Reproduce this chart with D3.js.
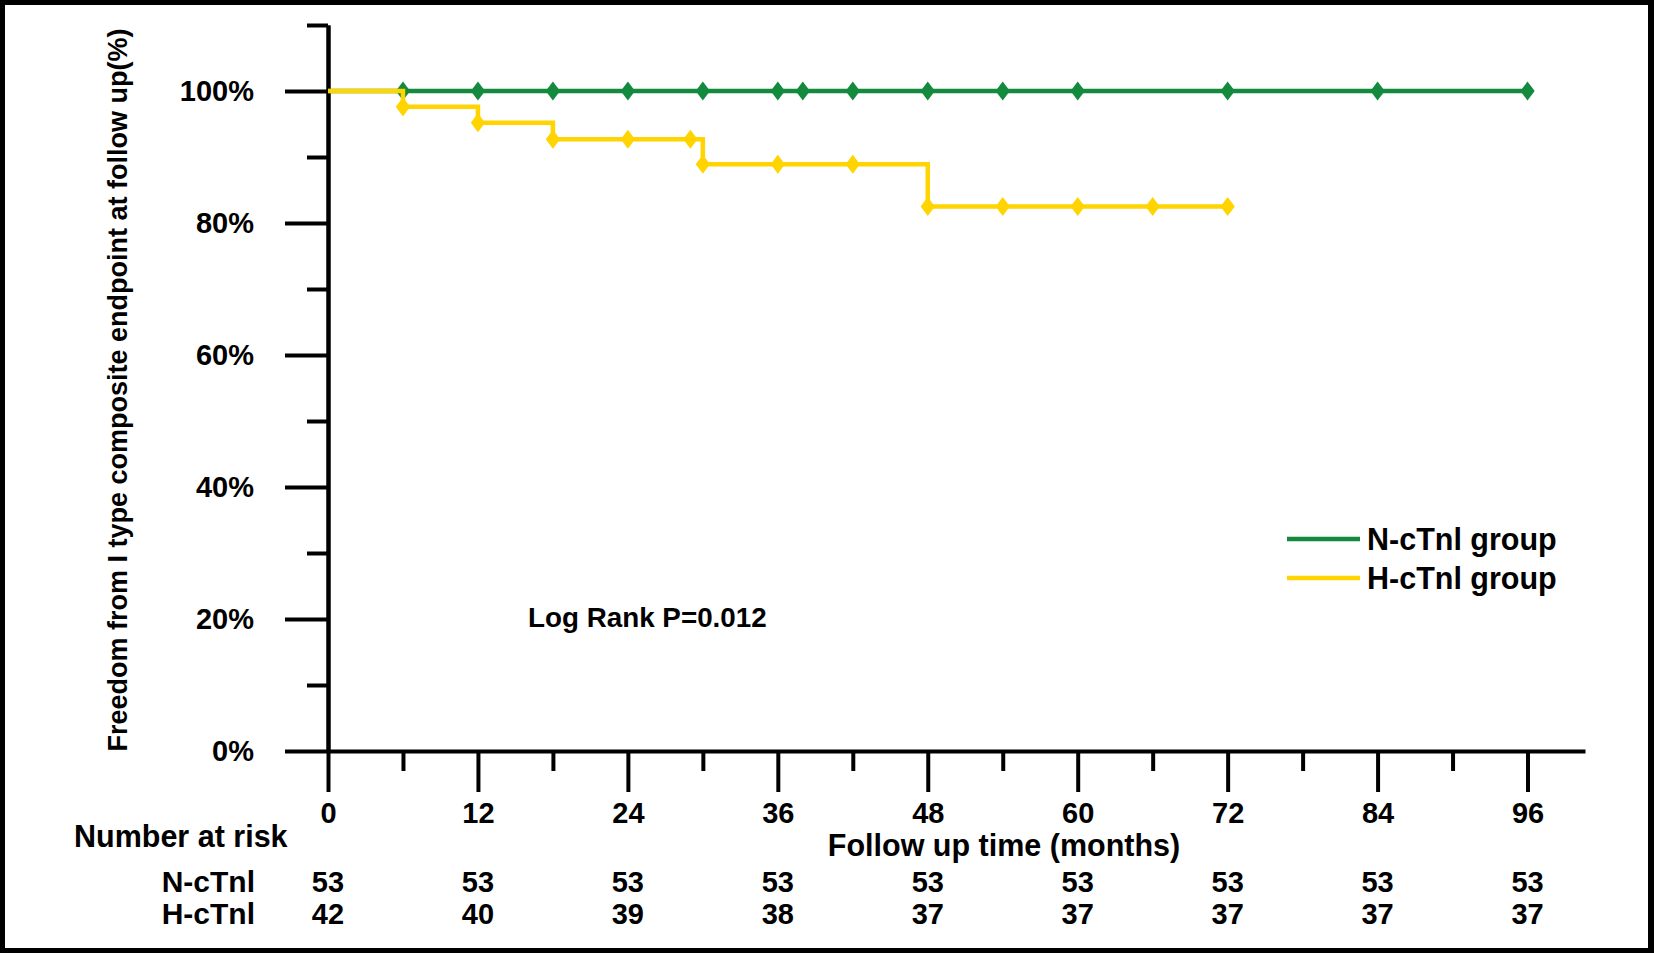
<!doctype html>
<html>
<head>
<meta charset="utf-8">
<script src="https://cdnjs.cloudflare.com/ajax/libs/d3/7.8.5/d3.min.js"></script>
<style>
  body { margin: 0; background: #000; }
  svg { display: block; }
  text { font-family: "Liberation Sans", Arial, sans-serif; font-weight: bold; fill: #000; }
</style>
</head>
<body>
<svg id="chart" width="1654" height="953"></svg>
<script>
// data
var greenTimes = [6, 12, 18, 24, 30, 36, 38, 42, 48, 54, 60, 72, 84, 96];
var greenSurv = [100, 100, 100, 100, 100, 100, 100, 100, 100, 100, 100, 100, 100, 100];
var greenStepT = [0, 96];
var greenStepS = [100, 100];

var yellowStepT = [0, 6, 12, 18, 30, 48, 72];
var yellowStepS = [100, 97.6, 95.2, 92.7, 88.9, 82.5, 82.5];
var yellowTimes = [6, 12, 18, 24, 29, 30, 36, 42, 48, 54, 60, 66, 72];
var yellowSurv = [97.6, 95.2, 92.7, 92.7, 92.7, 88.9, 88.9, 88.9, 82.5, 82.5, 82.5, 82.5, 82.5];

var riskTimes = [0, 12, 24, 36, 48, 60, 72, 84, 96];
var riskN = [53, 53, 53, 53, 53, 53, 53, 53, 53];
var riskH = [42, 40, 39, 38, 37, 37, 37, 37, 37];

var yMajor = [0, 20, 40, 60, 80, 100];
var yMinor = [10, 30, 50, 70, 90, 110];
var xMajor = [0, 12, 24, 36, 48, 60, 72, 84, 96];
var xMinor = [6, 18, 30, 42, 54, 66, 78, 90];

var green = "#138a3e";
var yellow = "#ffd400";

var svg = d3.select("#chart");

// white panel inside the black frame
svg.append("rect").attr("x", 5).attr("y", 5).attr("width", 1643).attr("height", 943).attr("fill", "#fff");

var x = d3.scaleLinear().domain([0, 100.6]).range([328, 1585]);
var y = d3.scaleLinear().domain([0, 110]).range([751, 25]);

// y axis (major + minor ticks in separate groups)
var yAx = svg.append("g").attr("transform", "translate(" + x(0) + ",0)")
    .call(d3.axisLeft(y).tickValues(yMajor).tickSize(43).tickSizeOuter(0).tickPadding(31)
        .tickFormat(function(d) { return d + "%"; }));
yAx.selectAll("text").style("font-size", "29px");
var yMin = svg.append("g").attr("transform", "translate(" + x(0) + ",0)")
    .call(d3.axisLeft(y).tickValues(yMinor).tickSize(21).tickSizeOuter(0).tickFormat(""));

// x axis
var xAx = svg.append("g").attr("transform", "translate(0," + y(0) + ")")
    .call(d3.axisBottom(x).tickValues(xMajor).tickSize(41).tickSizeOuter(0).tickPadding(10));
var xMin = svg.append("g").attr("transform", "translate(0," + y(0) + ")")
    .call(d3.axisBottom(x).tickValues(xMinor).tickSize(20).tickSizeOuter(0).tickFormat(""));
xMin.select(".domain").remove();
xAx.selectAll("text").style("font-size", "29px");

svg.selectAll(".domain, .tick line").attr("stroke", "#000").attr("stroke-width", 4);

// step curves
var line = d3.line().curve(d3.curveStepAfter)
    .x(function(d) { return x(d[0]); })
    .y(function(d) { return y(d[1]); });

var diamond = d3.symbol().type(d3.symbolDiamond).size(105);

function drawGroup(stepT, stepS, times, surv, color) {
    svg.append("path")
        .datum(d3.zip(stepT, stepS))
        .attr("d", line)
        .attr("fill", "none")
        .attr("stroke", color)
        .attr("stroke-width", 4.5);
    svg.append("g").selectAll("path")
        .data(d3.zip(times, surv))
        .enter().append("path")
        .attr("d", diamond)
        .attr("transform", function(d) { return "translate(" + x(d[0]) + "," + y(d[1]) + ") scale(1.3,1)"; })
        .attr("fill", color);
}
drawGroup(greenStepT, greenStepS, greenTimes, greenSurv, green);
drawGroup(yellowStepT, yellowStepS, yellowTimes, yellowSurv, yellow);

// y axis title
svg.append("text")
    .attr("transform", "translate(127,390) rotate(-90)")
    .attr("text-anchor", "middle")
    .style("font-size", "27px")
    .text("Freedom from I type composite endpoint at follow up(%)");

// x axis title
svg.append("text")
    .attr("x", 1004).attr("y", 856)
    .attr("text-anchor", "middle")
    .style("font-size", "30.5px")
    .text("Follow up time (months)");

svg.append("text")
    .attr("x", 528).attr("y", 627)
    .style("font-size", "27.8px")
    .text("Log Rank P=0.012");

// legend
var legend = [["N-cTnl group", green, 539], ["H-cTnl group", yellow, 578]];
legend.forEach(function(l) {
    svg.append("line").attr("x1", 1287).attr("x2", 1360).attr("y1", l[2]).attr("y2", l[2])
        .attr("stroke", l[1]).attr("stroke-width", 4.5);
    svg.append("text").attr("x", 1367).attr("y", l[2] + 11)
        .style("font-size", "30.5px").text(l[0]);
});

// number at risk table
svg.append("text").attr("x", 74).attr("y", 847).style("font-size", "30.5px").text("Number at risk");
svg.append("text").attr("x", 255).attr("y", 892).attr("text-anchor", "end").style("font-size", "30px").text("N-cTnl");
svg.append("text").attr("x", 255).attr("y", 924).attr("text-anchor", "end").style("font-size", "30px").text("H-cTnl");

svg.append("g").selectAll("text").data(d3.zip(riskTimes, riskN)).enter().append("text")
    .attr("x", function(d) { return x(d[0]); }).attr("y", 892)
    .attr("text-anchor", "middle").style("font-size", "29px")
    .text(function(d) { return d[1]; });
svg.append("g").selectAll("text").data(d3.zip(riskTimes, riskH)).enter().append("text")
    .attr("x", function(d) { return x(d[0]); }).attr("y", 924)
    .attr("text-anchor", "middle").style("font-size", "29px")
    .text(function(d) { return d[1]; });
</script>
</body>
</html>
